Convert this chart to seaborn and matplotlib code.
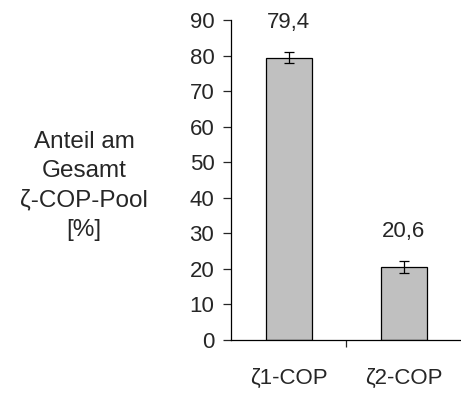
import matplotlib
matplotlib.use("Agg")
import matplotlib.pyplot as plt
import seaborn as sns

categories = ["ζ1-COP", "ζ2-COP"]
values = [79.4, 20.6]
errors = [1.6, 1.7]
value_labels = ["79,4", "20,6"]
y_ticks = [0, 10, 20, 30, 40, 50, 60, 70, 80, 90]

sns.set_style("white")
plt.rcParams['font.family'] = ['Liberation Sans', 'DejaVu Sans']
FS = 16

fig = plt.figure(figsize=(4.61, 3.96), dpi=100)
ax = fig.add_axes([231 / 461, 1 - 340 / 396, 1 - 231 / 461, (340 - 20) / 396])

sns.barplot(x=categories, y=values, color="#c0c0c0", edgecolor="black",
            linewidth=0.9, width=0.4, saturation=1, ax=ax)
ax.errorbar(range(len(values)), values, yerr=errors, fmt="none",
            ecolor="black", elinewidth=0.9, capsize=3.3, capthick=0.9)

for i, (v, lab) in enumerate(zip(values, value_labels)):
    ax.text(i, v + 10, lab, ha="center", va="center", fontsize=FS)

ax.set_ylim(0, 90)
ax.set_xlim(-0.5, 1.5)
ax.set_yticks(y_ticks)
ax.tick_params(axis="y", direction="out", length=6, width=0.9, pad=6,
               labelsize=FS, left=True)
ax.tick_params(axis="x", which="major", length=0, pad=20, labelsize=FS)
ax.set_xticks([0.5], minor=True)
ax.tick_params(axis="x", which="minor", direction="out", length=5,
               width=0.9, bottom=True)

for s in ["top", "right"]:
    ax.spines[s].set_visible(False)
for s in ["left", "bottom"]:
    ax.spines[s].set_color("black")
    ax.spines[s].set_linewidth(0.9)
ax.set_ylabel("")
ax.set_xlabel("")

fig.text(84 / 461, 1 - 186 / 396, "Anteil am\nGesamt\nζ-COP-Pool\n[%]",
         ha="center", va="center", fontsize=17.5, linespacing=1.42,
         multialignment="center")

fig.savefig("out.png", dpi=100)
